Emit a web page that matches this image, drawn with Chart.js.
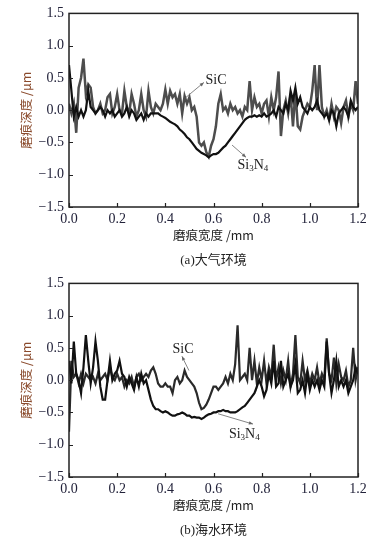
<!DOCTYPE html>
<html>
<head>
<meta charset="utf-8">
<script src="https://cdn.jsdelivr.net/npm/chart.js@4/dist/chart.umd.min.js"></script>
<style>
  html, body { margin: 0; padding: 0; background: #fff; }
  #wrap { position: relative; width: 381px; height: 540px; }
  .panel { position: absolute; left: 0; width: 381px; height: 270px; }
  .cap { position: absolute; left: 69px; width: 289px; text-align: center;
         font: 13px "Liberation Serif", "Noto Sans CJK SC", serif; color: #222; }
</style>
</head>
<body>
<div id="wrap">
  <div class="panel" style="top:0"><canvas id="c1" width="381" height="270"></canvas></div>
  <div class="panel" style="top:270px"><canvas id="c2" width="381" height="270"></canvas></div>
  <div class="cap" style="top:249px">(a)大气环境</div>
  <div class="cap" style="top:519px">(b)海水环境</div>
</div>
<script>
// ---- data ----
const xPositions = [
  0.00,0.01,0.02,0.03,0.04,0.05,0.06,0.07,0.08,0.09,0.10,0.11,0.12,0.13,0.14,0.15,0.16,0.17,0.18,0.19,
  0.20,0.21,0.22,0.23,0.24,0.25,0.26,0.27,0.28,0.29,0.30,0.31,0.32,0.33,0.34,0.35,0.36,0.37,0.38,0.39,
  0.40,0.41,0.42,0.43,0.44,0.45,0.46,0.47,0.48,0.49,0.50,0.51,0.52,0.53,0.54,0.55,0.56,0.57,0.58,0.59,
  0.60,0.61,0.62,0.63,0.64,0.65,0.66,0.67,0.68,0.69,0.70,0.71,0.72,0.73,0.74,0.75,0.76,0.77,0.78,0.79,
  0.80,0.81,0.82,0.83,0.84,0.85,0.86,0.87,0.88,0.89,0.90,0.91,0.92,0.93,0.94,0.95,0.96,0.97,0.98,0.99,
  1.00,1.01,1.02,1.03,1.04,1.05,1.06,1.07,1.08,1.09,1.10,1.11,1.12,1.13,1.14,1.15,1.16,1.17,1.18,1.19,1.20
];
const airSiC = [
  0.1,-0.05,0.1,-0.35,0.35,0.5,0.8,0.25,0.4,0.35,0.05,-0.05,0.0,0.1,-0.05,0.0,0.2,0.25,-0.05,0.05,
  0.25,0.0,-0.05,0.3,0.05,-0.05,0.25,0.1,-0.1,0.0,0.25,0.0,-0.1,0.3,0.05,-0.05,0.1,0.05,0.0,0.1,
  0.32,0.1,0.3,0.2,0.25,0.1,0.25,-0.05,0.22,0.1,0.2,0.0,0.05,-0.1,-0.5,-0.55,-0.5,-0.65,-0.72,-0.55,
  -0.45,-0.25,0.1,0.25,0.0,0.05,-0.05,0.1,0.0,0.05,-0.05,0.0,-0.1,0.05,0.0,0.45,0.0,0.2,0.05,0.1,
  -0.05,0.1,0.15,-0.1,0.2,0.0,0.2,0.6,-0.4,0.0,0.15,-0.05,0.25,-0.25,0.3,-0.25,-0.3,-0.1,0.0,0.1,
  0.05,0.3,0.7,0.0,0.7,0.05,-0.1,0.0,-0.15,0.1,-0.1,0.05,0.0,-0.2,0.05,0.15,-0.1,0.1,0.0,0.45,0.1
];
const airSi3N4 = [
  0.7,0.3,-0.1,0.05,-0.1,0.0,-0.1,0.0,0.3,0.05,0.0,-0.05,0.0,0.05,0.0,-0.1,0.0,-0.05,0.0,-0.1,
  -0.05,0.0,-0.1,-0.05,0.05,-0.1,0.0,-0.05,-0.15,-0.1,-0.05,-0.15,-0.05,-0.1,-0.05,-0.05,-0.05,-0.05,-0.08,-0.1,
  -0.12,-0.15,-0.18,-0.2,-0.22,-0.25,-0.3,-0.33,-0.37,-0.42,-0.45,-0.5,-0.55,-0.6,-0.63,-0.66,-0.68,-0.7,-0.73,-0.7,
  -0.68,-0.68,-0.66,-0.62,-0.58,-0.55,-0.5,-0.45,-0.4,-0.35,-0.3,-0.25,-0.2,-0.15,-0.12,-0.1,-0.1,-0.08,-0.1,-0.08,
  -0.1,-0.05,-0.1,-0.08,-0.05,0.0,-0.1,0.05,0.0,-0.05,0.1,0.0,0.3,0.15,0.35,0.1,0.2,0.05,0.0,-0.05,
  0.05,0.0,0.05,0.15,0.0,-0.05,-0.1,-0.05,-0.15,0.0,-0.05,-0.25,-0.05,0.0,0.05,0.0,-0.1,0.15,0.05,0.0,0.05
];
const seaSiC = [
  -0.8,0.3,0.05,0.1,-0.05,0.1,-0.05,0.1,0.05,0.0,0.05,-0.05,0.1,0.0,0.05,0.1,0.0,0.2,0.05,0.0,
  0.1,0.0,0.05,-0.1,0.0,-0.05,0.05,-0.1,0.05,0.1,0.0,0.05,0.1,0.05,0.15,0.2,0.1,-0.05,-0.1,-0.1,
  -0.05,-0.1,-0.1,-0.2,0.0,0.05,-0.05,0.0,0.15,0.05,0.0,-0.05,-0.1,-0.2,-0.35,-0.45,-0.43,-0.38,-0.3,-0.2,
  -0.1,-0.1,-0.15,-0.1,-0.05,0.05,-0.05,0.1,0.0,0.25,0.85,0.0,0.05,0.1,0.0,0.5,0.0,0.3,-0.05,0.2,
  0.0,0.3,-0.05,0.2,0.05,0.55,0.0,0.2,-0.05,0.15,0.0,0.3,-0.1,0.1,0.7,0.05,-0.05,0.3,0.0,0.15,
  -0.05,0.1,0.0,0.2,-0.05,0.1,0.0,0.65,0.1,0.0,0.35,-0.05,0.25,0.05,0.0,0.15,-0.1,0.0,0.5,0.0,0.2
];
const seaSi3N4 = [
  0.3,-0.05,0.6,0.1,0.0,-0.2,0.2,0.7,0.3,-0.05,0.2,0.6,0.3,-0.1,-0.3,-0.3,0.0,0.3,0.0,0.1,
  0.15,0.3,0.1,0.05,-0.1,0.05,-0.05,-0.15,0.05,-0.1,0.1,-0.05,0.0,-0.15,-0.3,-0.4,-0.45,-0.45,-0.48,-0.5,
  -0.48,-0.5,-0.53,-0.55,-0.55,-0.53,-0.52,-0.5,-0.52,-0.55,-0.55,-0.58,-0.57,-0.58,-0.58,-0.6,-0.58,-0.55,-0.53,-0.52,
  -0.5,-0.5,-0.48,-0.48,-0.46,-0.48,-0.48,-0.5,-0.5,-0.5,-0.48,-0.45,-0.42,-0.4,-0.35,-0.3,-0.25,-0.2,-0.1,0.0,
  -0.1,-0.25,-0.15,0.1,-0.05,0.3,-0.1,-0.05,0.3,-0.1,0.0,0.1,-0.1,0.0,0.25,-0.2,-0.15,0.0,-0.2,0.1,
  -0.15,0.0,-0.1,0.0,-0.15,0.0,-0.1,0.6,0.1,-0.2,0.0,0.3,-0.1,0.0,-0.1,0.0,-0.2,-0.1,0.0,0.2,0.1
];
const xTickValues = [0, 0.2, 0.4, 0.6, 0.8, 1.0, 1.2];
const xTickLabels = ['0.0', '0.2', '0.4', '0.6', '0.8', '1.0', '1.2'];
const yTickValues = [-1.5, -1.0, -0.5, 0, 0.5, 1.0, 1.5];
const yTickLabels = ['\u22121.5', '\u22121.0', '\u22120.5', '0.0', '0.5', '1.0', '1.5'];
const seriesNames = ['SiC', 'Si3N4'];
const xTitle = '磨痕宽度 /mm';
const yTitle = '磨痕深度 /μm';

// ---- helpers ----
function pts(ys) { return xPositions.map((x, i) => ({ x: x, y: ys[i] })); }
function labelFor(values, labels, v) {
  const i = values.findIndex(t => Math.abs(t - v) < 1e-6);
  return i >= 0 ? labels[i] : '';
}

const decor = {
  id: 'decor',
  afterDatasetsDraw(chart, args, opts) {
    const ctx = chart.ctx, a = chart.chartArea;
    const xs = chart.scales.x, ys = chart.scales.y;
    ctx.save();
    ctx.strokeStyle = '#222';
    ctx.lineWidth = 1.5;
    ctx.strokeRect(a.left, a.top, a.right - a.left, a.bottom - a.top);
    ctx.lineWidth = 1.2;
    ctx.beginPath();
    xTickValues.forEach(v => {
      const px = Math.round(xs.getPixelForValue(v)) + 0.5;
      ctx.moveTo(px, a.bottom); ctx.lineTo(px, a.bottom - 4);
    });
    yTickValues.forEach(v => {
      const py = Math.round(ys.getPixelForValue(v)) + 0.5;
      ctx.moveTo(a.left, py); ctx.lineTo(a.left + 4, py);
    });
    ctx.stroke();
    (opts.notes || []).forEach(n => {
      const x1 = xs.getPixelForValue(n.from[0]), y1 = ys.getPixelForValue(n.from[1]);
      const x2 = xs.getPixelForValue(n.to[0]), y2 = ys.getPixelForValue(n.to[1]);
      ctx.strokeStyle = '#666'; ctx.fillStyle = '#666'; ctx.lineWidth = 0.8;
      ctx.beginPath(); ctx.moveTo(x1, y1); ctx.lineTo(x2, y2); ctx.stroke();
      const ang = Math.atan2(y2 - y1, x2 - x1), L = 4.5, W = 0.4;
      ctx.beginPath();
      ctx.moveTo(x2, y2);
      ctx.lineTo(x2 - L * Math.cos(ang - W), y2 - L * Math.sin(ang - W));
      ctx.lineTo(x2 - L * Math.cos(ang + W), y2 - L * Math.sin(ang + W));
      ctx.closePath(); ctx.fill();
      const tx = xs.getPixelForValue(n.text[0]), ty = ys.getPixelForValue(n.text[1]);
      ctx.fillStyle = '#222';
      ctx.textBaseline = 'middle';
      ctx.textAlign = 'left';
      if (n.label === 'Si3N4') {
        let cx = tx;
        const parts = [['Si', 14, 0], ['3', 9, 3], ['N', 14, 0], ['4', 9, 3]];
        parts.forEach(p => {
          ctx.font = p[1] + 'px "Liberation Serif", serif';
          ctx.fillText(p[0], cx, ty + p[2]);
          cx += ctx.measureText(p[0]).width;
        });
      } else {
        ctx.font = '14px "Liberation Serif", serif';
        ctx.fillText(n.label, tx, ty);
      }
    });
    ctx.restore();
  }
};

function makeChart(id, sicData, si3n4Data, sicColor, sicWidth, notes) {
  return new Chart(document.getElementById(id), {
    type: 'line',
    data: {
      datasets: [
        { label: seriesNames[1], data: pts(si3n4Data), borderColor: '#111', borderWidth: 2.2,
          pointRadius: 0, tension: 0, fill: false },
        { label: seriesNames[0], data: pts(sicData), borderColor: sicColor, borderWidth: sicWidth,
          pointRadius: 0, tension: 0, fill: false }
      ]
    },
    options: {
      responsive: false,
      animation: false,
      devicePixelRatio: 1,
      layout: { padding: { top: 13, right: 23, left: 0, bottom: 0 } },
      plugins: {
        legend: { display: false },
        tooltip: { enabled: false },
        decor: { notes: notes }
      },
      scales: {
        x: {
          type: 'linear', min: 0, max: 1.2,
          afterBuildTicks: s => { s.ticks = xTickValues.map(v => ({ value: v })); },
          afterFit: s => { s.height = 63; },
          grid: { display: false, drawTicks: false },
          border: { display: false },
          ticks: {
            padding: 4, color: '#22223a', maxRotation: 0,
            font: { family: '"Liberation Serif", serif', size: 14 },
            callback: v => labelFor(xTickValues, xTickLabels, v)
          },
          title: {
            display: true, text: xTitle, color: '#222',
            font: { family: '"Noto Sans CJK SC", "Liberation Serif", sans-serif', size: 12.5 },
            padding: { top: 0, bottom: 27 }
          }
        },
        y: {
          type: 'linear', min: -1.5, max: 1.5,
          afterBuildTicks: s => { s.ticks = yTickValues.map(v => ({ value: v })); },
          afterFit: s => { s.width = 69; },
          grid: { display: false, drawTicks: false },
          border: { display: false },
          ticks: {
            padding: 5, color: '#22223a',
            font: { family: '"Liberation Serif", serif', size: 14 },
            callback: v => labelFor(yTickValues, yTickLabels, v)
          },
          title: {
            display: true, text: yTitle, color: '#8a4a2c',
            font: { family: '"Noto Sans CJK SC", "Liberation Serif", sans-serif', size: 12.5 },
            padding: { top: 19, bottom: 0 }
          }
        }
      }
    },
    plugins: [decor]
  });
}

makeChart('c1', airSiC, airSi3N4, '#4d4d4d', 2.5, [
  { label: 'SiC', from: [0.486, 0.2], to: [0.56, 0.43], text: [0.567, 0.47] },
  { label: 'Si3N4', from: [0.677, -0.54], to: [0.735, -0.73], text: [0.70, -0.86] }
]);
makeChart('c2', seaSiC, seaSi3N4, '#2a2a2a', 2.2, [
  { label: 'SiC', from: [0.498, 0.15], to: [0.469, 0.37], text: [0.43, 0.48] },
  { label: 'Si3N4', from: [0.619, -0.52], to: [0.764, -0.68], text: [0.664, -0.84] }
]);
</script>
</body>
</html>
